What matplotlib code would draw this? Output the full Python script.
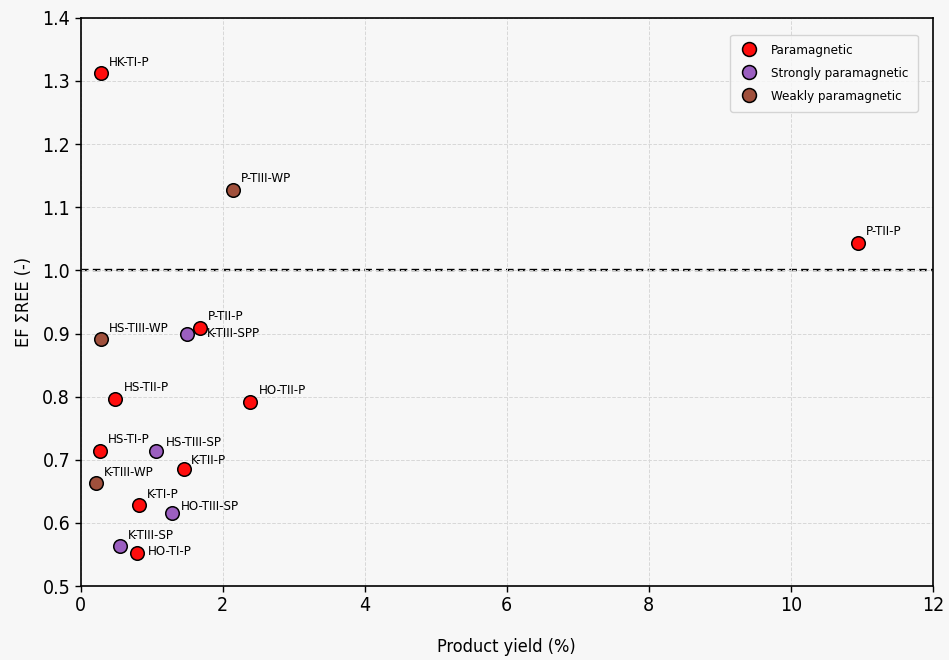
import matplotlib
matplotlib.use("Agg")
import matplotlib.pyplot as plt
from matplotlib.lines import Line2D

# Sample data: product yield (%) and enrichment factor of total REE
labels = ["HK-TI-P", "P-TIII-WP", "P-TII-P", "HS-TIII-WP", "K-TIII-SPP", "P-TII-P",
          "HS-TII-P", "HO-TII-P", "HS-TI-P", "HS-TIII-SP", "K-TII-P", "K-TIII-WP",
          "K-TI-P", "HO-TIII-SP", "K-TIII-SP", "HO-TI-P"]
yield_pct = [0.28, 2.15, 10.95, 0.28, 1.50, 1.68,
             0.49, 2.39, 0.27, 1.06, 1.45, 0.21,
             0.82, 1.28, 0.55, 0.80]
ef_ree = [1.312, 1.128, 1.044, 0.891, 0.900, 0.909,
          0.797, 0.792, 0.714, 0.714, 0.685, 0.663,
          0.628, 0.615, 0.563, 0.552]
magnetic = ["P", "W", "P", "W", "S", "P",
            "P", "P", "P", "S", "P", "W",
            "P", "S", "S", "P"]

class_names = {"P": "Paramagnetic", "S": "Strongly paramagnetic", "W": "Weakly paramagnetic"}
class_colors = {"P": "#ff0d0d", "S": "#9b5fc0", "W": "#a0503c"}

# label offsets in pixels (dx, dy)
default_offset = (8, 11)
special_offsets = {4: (20, 0), 15: (10, 2), 13: (9, 7), 9: (10, 8), 10: (7, 9)}

plt.rcParams["font.family"] = ["DejaVu Sans"]
plt.rcParams["font.stretch"] = "condensed"

fig = plt.figure(figsize=(9.49, 6.60), dpi=100, facecolor="#f7f7f7")
ax = fig.add_axes([0.085, 0.112, 0.898, 0.861])
ax.set_facecolor("#f7f7f7")

ax.grid(True, linestyle="--", color="#d8d8d8", linewidth=0.7, zorder=0)
ax.axhline(1.0, color="black", linestyle="--", linewidth=1.7, dashes=(3.2, 1.8), zorder=1)

for x, y, m in zip(yield_pct, ef_ree, magnetic):
    ax.scatter(x, y, s=95, color=class_colors[m], edgecolor="black",
               linewidth=1.1, zorder=3)

for i, (x, y, lab) in enumerate(zip(yield_pct, ef_ree, labels)):
    dx, dy = special_offsets.get(i, default_offset)
    ax.annotate(lab, (x, y), xytext=(dx, dy), textcoords="offset pixels",
                ha="left", va="center", fontsize=9.5, zorder=4)

ax.set_xlim(0, 12)
ax.set_ylim(0.5, 1.4)
ax.set_xticks(range(0, 13, 2))
ax.set_yticks([0.5, 0.6, 0.7, 0.8, 0.9, 1.0, 1.1, 1.2, 1.3, 1.4])
ax.tick_params(axis="both", labelsize=14, width=1.0, length=4)
ax.set_xlabel("Product yield (%)", fontsize=13, labelpad=16)
ax.set_ylabel("EF \u03a3REE (-)", fontsize=13, labelpad=7)
for sp in ax.spines.values():
    sp.set_linewidth(1.2)

handles = [Line2D([0], [0], marker="o", linestyle="none", markersize=10,
                  markerfacecolor=class_colors[k], markeredgecolor="black",
                  markeredgewidth=1.1, label=class_names[k]) for k in ["P", "S", "W"]]
ax.legend(handles=handles, loc="upper right", fontsize=9.5, frameon=True,
          fancybox=True, edgecolor="#cccccc", facecolor="#f9f9f9",
          borderpad=0.7, labelspacing=0.75, handletextpad=0.9, handlelength=1.5,
          bbox_to_anchor=(0.99, 0.982))

fig.savefig("out.png", dpi=100, facecolor=fig.get_facecolor())
